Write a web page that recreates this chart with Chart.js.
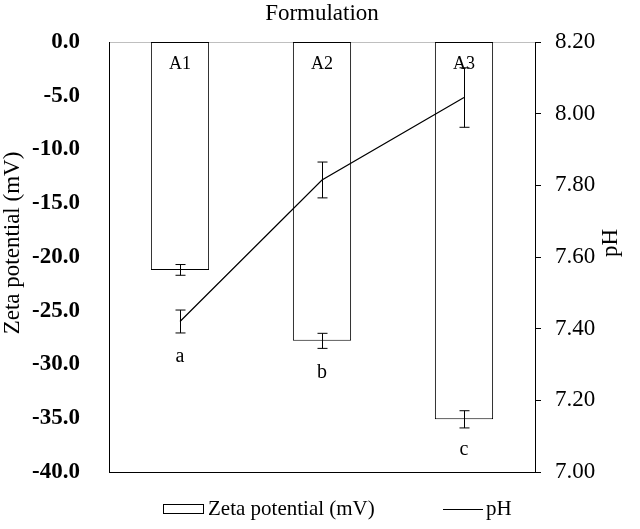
<!DOCTYPE html>
<html>
<head>
<meta charset="utf-8">
<script src="https://cdn.jsdelivr.net/npm/chart.js@4.4.1/dist/chart.umd.min.js"></script>
<style>
  html, body { margin: 0; padding: 0; background: #fff; }
  #wrap { width: 640px; height: 529px; }
</style>
</head>
<body>
<div id="wrap"><canvas id="c"></canvas></div>
<script>
const categories = ['A1', 'A2', 'A3'];
const zetaValues = [-21.2, -27.8, -35.1];
const zetaErrors = [0.5, 0.7, 0.8];
const phValues = [7.42, 7.815, 8.045];
const phErrors = [0.032, 0.05, 0.083];
const sigLetters = ['a', 'b', 'c'];
const sigLetterZeta = [-29.3, -30.8, -37.9];   // where the letters sit, on the zeta axis
const zetaTicks = [0, -5, -10, -15, -20, -25, -30, -35, -40];
const phTicks = [7.0, 7.2, 7.4, 7.6, 7.8, 8.0, 8.2];

const SERIF = '"Liberation Serif", "Times New Roman", serif';

// error bars, category labels, letters, legend, axis titles
const extras = {
  id: 'extras',
  afterDatasetsDraw(chart) {
    const ctx = chart.ctx;
    const x = chart.scales.x, y = chart.scales.y, y1 = chart.scales.y1;
    const area = chart.chartArea;
    ctx.save();

    // bottom frame line
    ctx.strokeStyle = '#000';
    ctx.lineWidth = 1;
    ctx.beginPath();
    ctx.moveTo(area.left, Math.round(area.bottom) + 0.5);
    ctx.lineTo(area.right, Math.round(area.bottom) + 0.5);
    ctx.stroke();

    const cap = 5;
    const errBar = (px, top, bottom) => {
      ctx.beginPath();
      ctx.moveTo(px, top); ctx.lineTo(px, bottom);
      ctx.moveTo(px - cap, top); ctx.lineTo(px + cap, top);
      ctx.moveTo(px - cap, bottom); ctx.lineTo(px + cap, bottom);
      ctx.stroke();
    };
    categories.forEach((c, i) => {
      const px = Math.round(x.getPixelForValue(i)) + 0.5;
      errBar(px, y.getPixelForValue(zetaValues[i] + zetaErrors[i]), y.getPixelForValue(zetaValues[i] - zetaErrors[i]));
      errBar(px, y1.getPixelForValue(phValues[i] + phErrors[i]), y1.getPixelForValue(phValues[i] - phErrors[i]));
    });

    ctx.fillStyle = '#000';
    ctx.textAlign = 'center';
    ctx.textBaseline = 'middle';
    ctx.font = '18px ' + SERIF;
    categories.forEach((c, i) => {
      ctx.fillText(c, x.getPixelForValue(i), area.top + 22);
    });
    ctx.font = '20px ' + SERIF;
    sigLetters.forEach((l, i) => {
      ctx.fillText(l, x.getPixelForValue(i), y.getPixelForValue(sigLetterZeta[i]));
    });

    // axis titles, both read bottom to top
    const titleY = 243;
    ctx.font = '23px ' + SERIF;
    ctx.save();
    ctx.translate(13, titleY);
    ctx.rotate(-Math.PI / 2);
    ctx.fillText('Zeta potential (mV)', 0, 0);
    ctx.restore();
    ctx.save();
    ctx.translate(611, titleY);
    ctx.rotate(-Math.PI / 2);
    ctx.fillText('pH', 0, 0);
    ctx.restore();

    // legend
    const ly = 509;
    ctx.strokeRect(163.5, ly - 4.5, 40, 9);
    ctx.textAlign = 'left';
    ctx.font = '21px ' + SERIF;
    ctx.fillText(chart.data.datasets[0].label, 208, ly);
    ctx.beginPath();
    ctx.moveTo(443, ly + 0.5); ctx.lineTo(483, ly + 0.5);
    ctx.stroke();
    ctx.fillText(chart.data.datasets[1].label, 486, ly);

    ctx.restore();
  }
};

new Chart(document.getElementById('c'), {
  type: 'bar',
  data: {
    labels: categories,
    datasets: [
      {
        type: 'bar',
        label: 'Zeta potential (mV)',
        data: zetaValues,
        yAxisID: 'y',
        backgroundColor: '#fff',
        borderColor: '#000',
        borderWidth: 1,
        borderSkipped: false,
        categoryPercentage: 1,
        barPercentage: 0.41,
        order: 2
      },
      {
        type: 'line',
        label: 'pH',
        data: phValues,
        yAxisID: 'y1',
        borderColor: '#000',
        borderWidth: 1.2,
        pointRadius: 0,
        tension: 0,
        order: 1
      }
    ]
  },
  options: {
    responsive: true,
    maintainAspectRatio: false,
    animation: false,
    layout: { padding: { left: 0, right: 0, top: 0, bottom: 57 } },
    plugins: {
      legend: { display: false },
      tooltip: { enabled: false }
    },
    scales: {
      x: {
        position: 'top',
        grid: { display: false },
        border: { display: true, color: '#bfbfbf', width: 1 },
        ticks: { display: false },
        title: {
          display: true,
          text: 'Formulation',
          color: '#000',
          font: { family: SERIF, size: 23 },
          padding: { top: 0, bottom: 0 }
        },
        afterFit(s) { s.height = 42; }
      },
      y: {
        position: 'left',
        min: -40,
        max: 0,
        afterBuildTicks(s) { s.ticks = zetaTicks.map(v => ({ value: v })); },
        grid: { display: false },
        border: { display: true, color: '#000', width: 1 },
        ticks: {
          color: '#000',
          padding: 21,
          font: { family: SERIF, size: 23, weight: 'bold' },
          callback: v => v.toFixed(1)
        },
        afterFit(s) { s.width = 109; }
      },
      y1: {
        position: 'right',
        min: 7,
        max: 8.2,
        afterBuildTicks(s) { s.ticks = phTicks.map(v => ({ value: v })); },
        grid: { display: true, drawOnChartArea: false, drawTicks: true, tickLength: 6, color: '#000' },
        border: { display: true, color: '#000', width: 1 },
        ticks: {
          color: '#000',
          padding: 14,
          font: { family: SERIF, size: 23 },
          callback: v => v.toFixed(2)
        },
        afterFit(s) { s.width = 105; }
      }
    }
  },
  plugins: [extras]
});
</script>
</body>
</html>
